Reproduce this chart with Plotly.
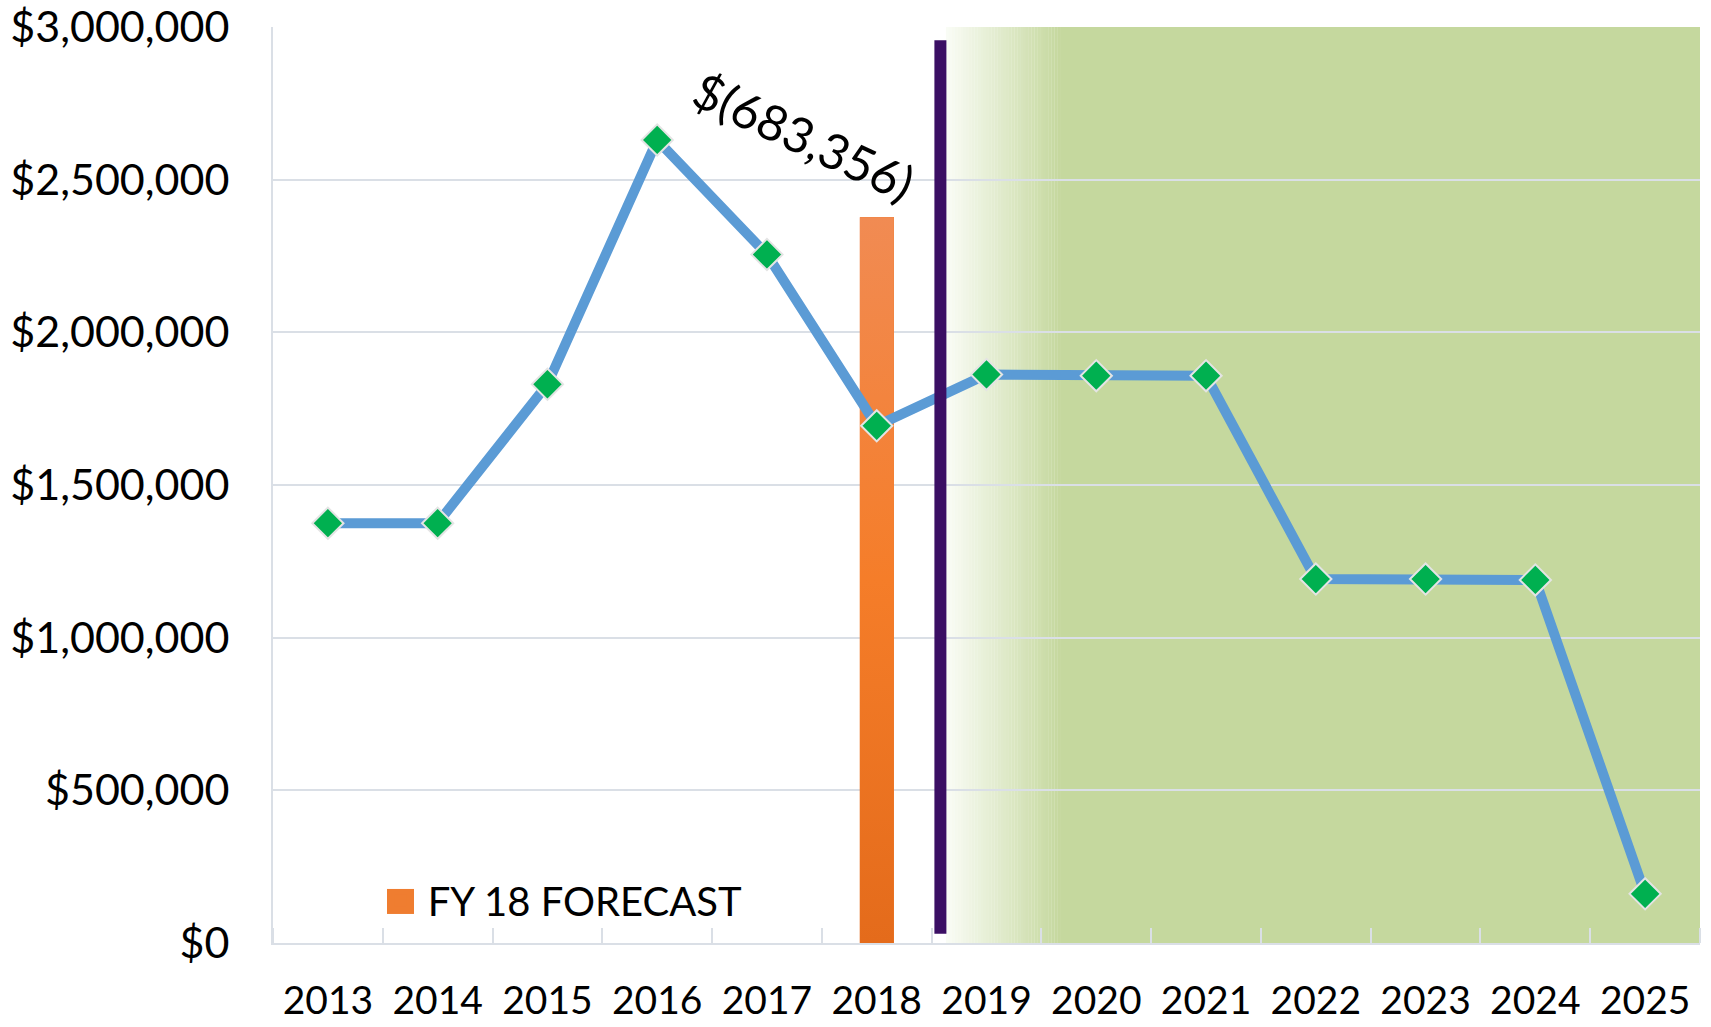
import plotly.graph_objects as go

# ---------------- data ----------------
years = ["2013", "2014", "2015", "2016", "2017", "2018", "2019",
         "2020", "2021", "2022", "2023", "2024", "2025"]
balance = [1375000, 1375000, 1830000, 2630000, 2255000, 1694000, 1862000,
           1858000, 1858000, 1192000, 1192000, 1189000, 161000]
forecast_label = "FY 18 FORECAST"
forecast_year = "2018"
forecast_value = 2377000
deficit_text = "$(683,356)"
y_ticks = [0, 500000, 1000000, 1500000, 2000000, 2500000, 3000000]
y_ticktext = ["$0", "$500,000", "$1,000,000", "$1,500,000",
              "$2,000,000", "$2,500,000", "$3,000,000"]

xs = list(range(len(years)))
fb_x = years.index(forecast_year)
BAR_W = 0.31

FONT = "Lato"
GRID = "#DADFE6"
ORANGE = "#EF7D30"

fig = go.Figure()

# forecast bar (legend entry + base colour)
fig.add_trace(go.Bar(
    x=[fb_x], y=[forecast_value], width=BAR_W,
    marker=dict(color=ORANGE, line=dict(width=0)),
    name=forecast_label, showlegend=True,
))
# same bar with its vertical colour gradient
hx = BAR_W / 2
fig.add_trace(go.Scatter(
    x=[fb_x - hx, fb_x + hx, fb_x + hx, fb_x - hx, fb_x - hx],
    y=[0, 0, forecast_value, forecast_value, 0],
    mode="lines", fill="toself", line=dict(width=0),
    fillgradient=dict(type="vertical",
                      colorscale=[[0, "#E46B1B"], [0.5, "#F57D29"], [1, "#F18B53"]]),
    showlegend=False, hoverinfo="skip",
))

fig.add_trace(go.Scatter(
    x=xs, y=balance, mode="lines+markers",
    line=dict(color="#5B9BD5", width=10),
    marker=dict(symbol="diamond", size=24, color="#00B050",
                line=dict(color="#E4E4E4", width=2)),
    showlegend=False, name="Balance",
))

# green projection background with gradient edge (drawn below gridlines)
shapes = []
g0, g1, gend = 5.63, 6.67, 12.5
c0 = (250, 252, 246)
c1 = (197, 216, 158)
n = 40
for i in range(n):
    t = (i + 0.5) / n
    col = tuple(round(c0[k] + (c1[k] - c0[k]) * t) for k in range(3))
    shapes.append(dict(type="rect", xref="x", yref="y", layer="below",
                       x0=g0 + (g1 - g0) * i / n, x1=g0 + (g1 - g0) * (i + 1) / n + 0.002,
                       y0=0, y1=3000000, line=dict(width=0),
                       fillcolor="rgb(%d,%d,%d)" % col))
shapes.append(dict(type="rect", xref="x", yref="y", layer="below",
                   x0=g1, x1=gend, y0=0, y1=3000000, line=dict(width=0),
                   fillcolor="rgb(%d,%d,%d)" % c1))
# purple divider
shapes.append(dict(type="line", xref="x", yref="y", layer="above",
                   x0=5.58, x1=5.58, y0=30000, y1=2957000,
                   line=dict(color="#3B0F64", width=12)))
# enlarged legend swatch (sits under the legend's own swatch)
shapes.append(dict(type="rect", xref="paper", yref="paper", layer="above",
                   x0=0.0799, x1=0.0988, y0=0.0317, y1=0.059,
                   line=dict(width=0), fillcolor=ORANGE))

fig.update_layout(
    width=1711, height=1027,
    margin=dict(l=273, r=11, t=27, b=84, autoexpand=False),
    paper_bgcolor="white", plot_bgcolor="white",
    font=dict(family=FONT, color="black", size=40),
    shapes=shapes,
    bargap=0,
    showlegend=True,
    hovermode=False,
    legend=dict(x=0.0706, y=0.046, xanchor="left", yanchor="middle",
                bgcolor="rgba(0,0,0,0)", font=dict(size=40, family=FONT),
                itemwidth=44),
    annotations=[dict(x=4.34, y=2643000, xref="x", yref="y",
                      text=deficit_text, showarrow=False, textangle=25,
                      xanchor="center", yanchor="middle",
                      font=dict(size=49, family=FONT, color="black"))],
)

fig.update_xaxes(
    range=[-0.5, 12.5], tickmode="array", tickvals=xs, ticktext=years,
    showgrid=False, zeroline=False, showline=True, linecolor=GRID, linewidth=2,
    ticks="", ticklabelstandoff=22, tickfont=dict(size=39, family=FONT),
    automargin=False, ticklabeloverflow="allow",
    minor=dict(tickmode="array", tickvals=[i - 0.5 for i in range(len(years) + 1)],
               ticks="inside", ticklen=15, tickcolor=GRID, tickwidth=2, showgrid=False),
)
fig.update_yaxes(
    range=[0, 3000000], tickmode="array", tickvals=y_ticks, ticktext=y_ticktext,
    showgrid=True, gridcolor=GRID, gridwidth=2, zeroline=False,
    showline=True, linecolor=GRID, linewidth=2, ticks="",
    ticklabelstandoff=33, tickfont=dict(size=43, family=FONT),
    automargin=False, ticklabeloverflow="allow",
)

fig.write_html(
    "out.html",
    config={"displayModeBar": False},
    post_script="document.body.style.margin='0';document.body.style.overflow='hidden';",
)
